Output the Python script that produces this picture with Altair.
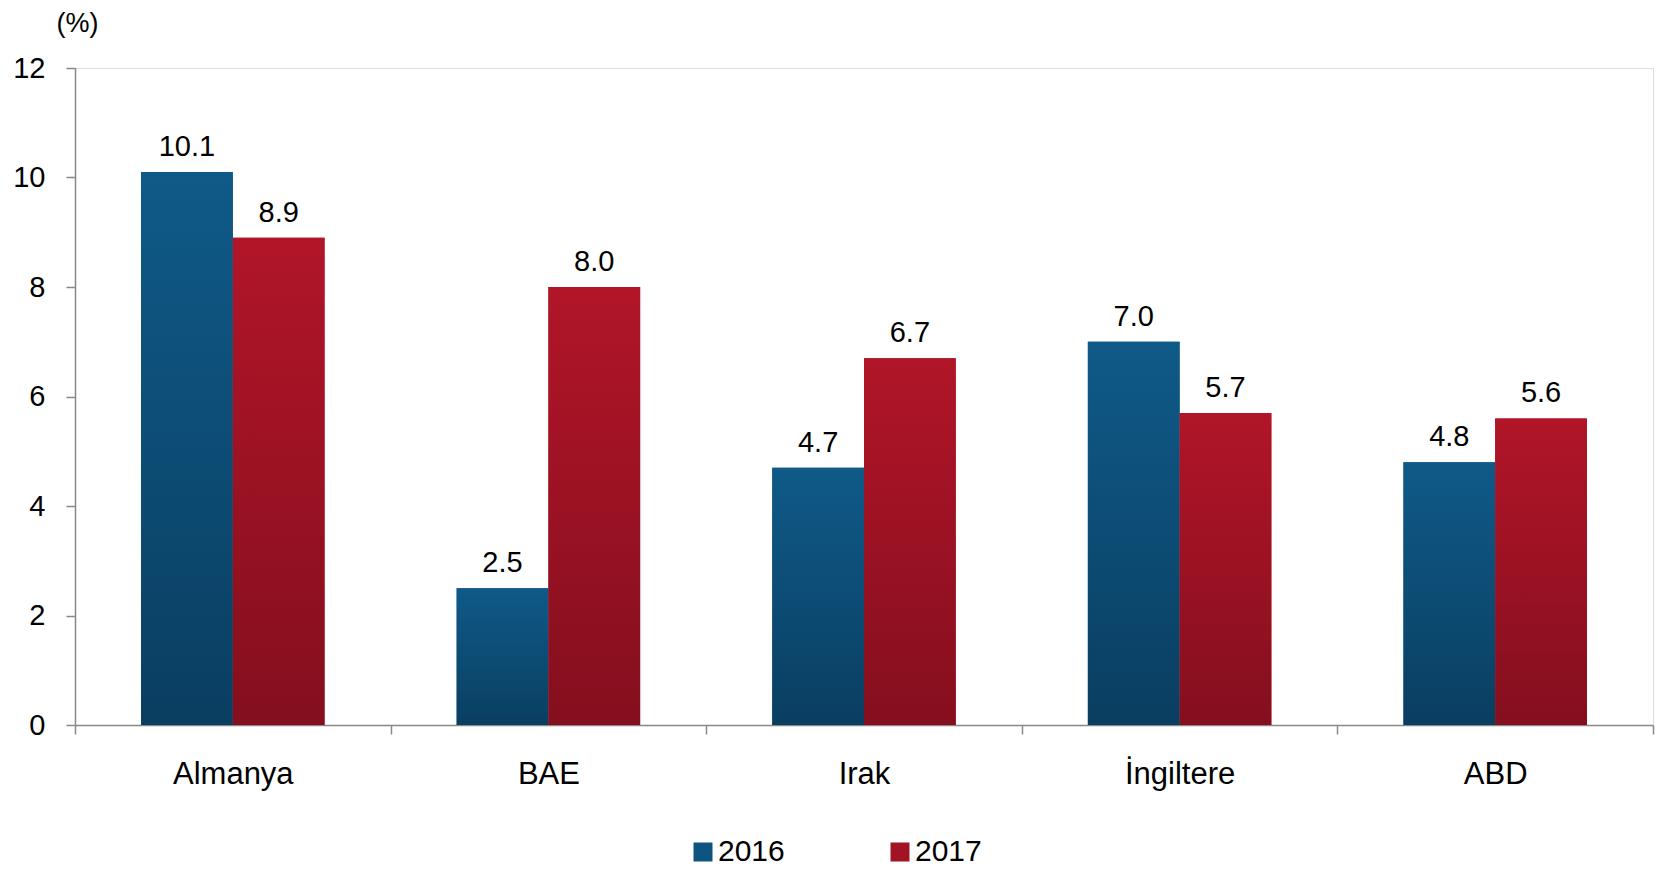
import altair as alt
import pandas as pd

categories = ["Almanya", "BAE", "Irak", "İngiltere", "ABD"]
years = ["2016", "2017"]
v2016 = [10.1, 2.5, 4.7, 7.0, 4.8]
v2017 = [8.9, 8.0, 6.7, 5.7, 5.6]
y_ticks = [0, 2, 4, 6, 8, 10, 12]

rows = []
for c, a, b in zip(categories, v2016, v2017):
    rows.append({"ulke": c, "yil": "2016", "deger": a})
    rows.append({"ulke": c, "yil": "2017", "deger": b})
df = pd.DataFrame(rows)

FONT = "Liberation Sans"
blue_grad = alt.Gradient(gradient="linear", x1=0, x2=0, y1=0, y2=1,
                         stops=[alt.GradientStop(color="#0f5a88", offset=0),
                                alt.GradientStop(color="#0a3e61", offset=1)])
red_grad = alt.Gradient(gradient="linear", x1=0, x2=0, y1=0, y2=1,
                        stops=[alt.GradientStop(color="#b11528", offset=0),
                               alt.GradientStop(color="#840f1e", offset=1)])

x_enc = alt.X("ulke:N", sort=categories, title=None,
              scale=alt.Scale(paddingInner=0, paddingOuter=0),
              axis=alt.Axis(labelAngle=0, labelFontSize=31, labelFont=FONT, labelColor="#000",
                            tickBand="extent", tickSize=9, tickColor="#888", tickWidth=1.5,
                            domainColor="#888", domainWidth=1.5, labelPadding=25))
xo_enc = alt.XOffset("yil:N", sort=years, scale=alt.Scale(paddingInner=0, paddingOuter=0.72))
y_enc = alt.Y("deger:Q", scale=alt.Scale(domain=[0, 12]),
              axis=alt.Axis(values=y_ticks, grid=False, title="(%)", titleAngle=0,
                            titleX=2, titleY=-45, titleAlign="center", titleBaseline="middle",
                            titleFontSize=27, titleFont=FONT, titleFontWeight="normal", titleColor="#000",
                            labelFontSize=29, labelFont=FONT, labelColor="#000", labelPadding=21,
                            tickSize=9, tickColor="#888", tickWidth=1.5,
                            domainColor="#888", domainWidth=1.5))

base = alt.Chart(df).encode(x=x_enc, xOffset=xo_enc, y=y_enc)

legend_bars = base.mark_bar().encode(
    color=alt.Color("yil:N", sort=years,
                    scale=alt.Scale(domain=years, range=["#0d5480", "#a21425"]),
                    legend=alt.Legend(title=None, orient="none", direction="horizontal",
                                      legendX=613, legendY=769, labelFontSize=30, labelFont=FONT,
                                      labelColor="#000", symbolType="square", symbolSize=361,
                                      symbolStrokeWidth=0, columnPadding=100, labelOffset=0,
                                      padding=0))
)

grad_bars = base.mark_bar().encode(
    color=alt.condition(alt.datum.yil == "2016", alt.value(blue_grad), alt.value(red_grad))
)

labels = base.mark_text(dy=-16, baseline="alphabetic", fontSize=29, font=FONT, color="#000").encode(
    text=alt.Text("deger:Q", format=".1f")
)

chart = alt.layer(legend_bars, grad_bars, labels).properties(
    width=1578, height=657,
    autosize=alt.AutoSizeParams(type="none"),
    padding={"left": 67, "top": 60, "right": 2, "bottom": 143}
).configure_view(strokeWidth=0, stroke="transparent").configure(font=FONT)

chart.save("out.html", embed_options={"renderer": "svg", "actions": False})
